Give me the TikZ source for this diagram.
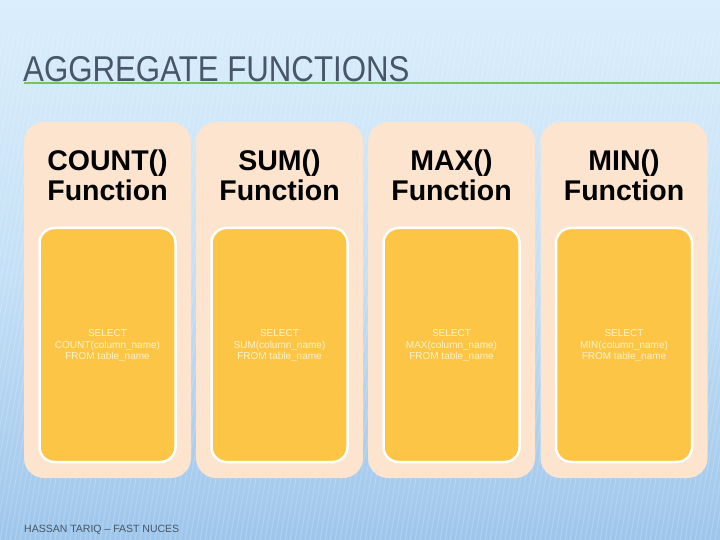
\documentclass[tikz,border=0pt]{standalone}
\usepackage{fontspec}
\setmainfont{Liberation Sans}
\usetikzlibrary{shapes.misc}
\definecolor{bgtop}{HTML}{DAEEFC}
\definecolor{bgmid}{HTML}{C4E0F6}
\definecolor{bgbot}{HTML}{9EC6EB}
\definecolor{peach}{HTML}{FDE4CF}
\definecolor{gold}{HTML}{FCC545}
\definecolor{sqltext}{HTML}{FFF3C8}
\definecolor{titlecol}{HTML}{47566A}
\definecolor{rulegreen}{HTML}{78C25E}
\tikzset{
  outerbox/.style={rectangle, rounded corners=20pt, fill=peach, minimum width=167pt, minimum height=356pt, inner sep=0pt},
  innerbox/.style={rectangle, rounded corners=15pt, fill=gold, draw=white, line width=2.5pt, minimum width=136pt, minimum height=234pt, inner sep=0pt},
  fnline/.style={anchor=base, inner sep=0pt, font=\fontsize{28.5}{30}\selectfont\bfseries, text=black},
  sqlbox/.style={align=center, inner sep=0pt, font=\fontsize{10}{11.5}\selectfont, text=sqltext},
}
\begin{document}
\begin{tikzpicture}[x=1pt,y=-1pt]
\useasboundingbox (0,0) rectangle (720,540);
\shade[top color=bgtop, bottom color=bgbot, middle color=bgmid] (0,0) rectangle (720,540);
\begin{scope}
\clip (0,30) rectangle (720,540);
\foreach \i in {0,5,...,820} {
  \draw[white, opacity=0.18, line width=1pt] (\i,30) -- (\i-90,540);
}
\end{scope}
% header
\draw[rulegreen, line width=2pt] (24,83) coordinate (ruleL) -- (720,83) coordinate (ruleR);
\node[anchor=base west, inner sep=0pt, text=titlecol] (hdr) at (23,82)
  {\scalebox{0.905}[1.04]{\fontsize{34.5}{36}\selectfont AGGREGATE FUNCTIONS}};
% boxes
\foreach \n/\cx/\fn/\sq in {1/107.5/COUNT()/COUNT, 2/279.5/SUM()/SUM, 3/451.5/MAX()/MAX, 4/624/MIN()/MIN} {
  \node[outerbox] (outer\n) at (\cx,300) {};
  \node[fnline] (fa\n) at (\cx,171) {\fn};
  \node[fnline] (fb\n) at (\cx,201) {Function};
  \node[innerbox] (inner\n) at (\cx,345) {};
  \node[sqlbox] (sql\n) at (\cx,346) {SELECT\\\sq(column\_name)\\FROM table\_name};
}
% footer
\node[anchor=base west, inner sep=0pt, text=titlecol, font=\fontsize{10.5}{12}\selectfont] (foot) at (24,532) {HASSAN TARIQ – FAST NUCES};
\end{tikzpicture}
\end{document}
